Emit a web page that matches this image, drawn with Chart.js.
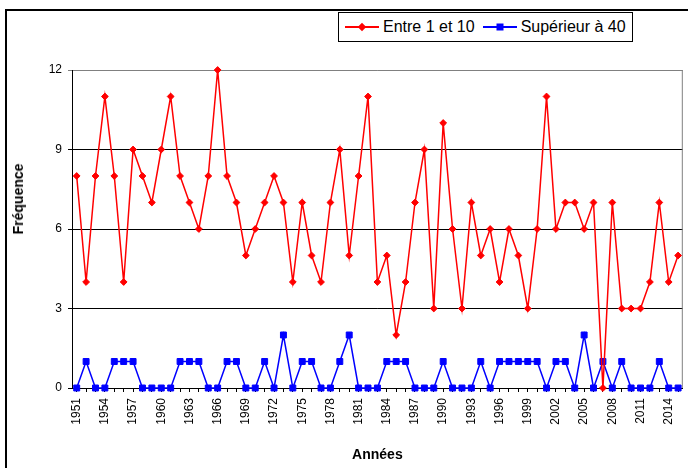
<!DOCTYPE html>
<html lang="fr">
<head>
<meta charset="utf-8">
<title>Fréquence par année</title>
<script src="https://cdn.jsdelivr.net/npm/chart.js@4/dist/chart.umd.min.js"></script>
<style>
  body { margin: 0; background: #fff; font-family: "Liberation Sans", Arial, sans-serif; }
  #cadre { position: relative; width: 688px; height: 468px; overflow: hidden; }
  #bord { position: absolute; left: 5px; top: 9px; width: 800px; height: 600px;
          border-left: 2px solid #000; border-top: 2px solid #000; }
  #legende { position: absolute; left: 338px; top: 12px; height: 28px; border: 1px solid #000;
             background: #fff; display: flex; align-items: center; padding: 0 6px; font-size: 16px; color: #000; }
  .item { display: flex; align-items: center; }
  .item + .item { margin-left: 8px; }
  .symbole { position: relative; width: 34px; height: 12px; margin-right: 4px; }
  .trait { position: absolute; left: 0; right: 0; top: 5px; height: 1.5px; }
  .marque { position: absolute; left: 50%; top: 6px; }
  #titreY { position: absolute; left: 18px; top: 199px; transform: translate(-50%, -50%) rotate(-90deg);
            font-weight: bold; font-size: 14px; white-space: nowrap; }
  #zone { position: absolute; left: 0; top: 0; width: 688px; height: 468px; }
</style>
</head>
<body>
<div id="cadre">
  <div id="bord"></div>
  <div id="zone"><canvas id="graphique"></canvas></div>
  <div id="titreY">Fréquence</div>
  <div id="legende"></div>
</div>
<script>
const annees = [
  '1951','1952','1953','1954','1955','1956','1957','1958','1959','1960',
  '1961','1962','1963','1964','1965','1966','1967','1968','1969','1970',
  '1971','1972','1973','1974','1975','1976','1977','1978','1979','1980',
  '1981','1982','1983','1984','1985','1986','1987','1988','1989','1990',
  '1991','1992','1993','1994','1995','1996','1997','1998','1999','2000',
  '2001','2002','2003','2004','2005','2006','2007','2008','2009','2010',
  '2011','2012','2013','2014','2015'
];

const entre1et10 = [
  8, 4, 8, 11, 8, 4, 9, 8, 7, 9,
  11, 8, 7, 6, 8, 12, 8, 7, 5, 6,
  7, 8, 7, 4, 7, 5, 4, 7, 9, 5,
  8, 11, 4, 5, 2, 4, 7, 9, 3, 10,
  6, 3, 7, 5, 6, 4, 6, 5, 3, 6,
  11, 6, 7, 7, 6, 7, 0, 7, 3, 3,
  3, 4, 7, 4, 5
];

const superieur40 = [
  0, 1, 0, 0, 1, 1, 1, 0, 0, 0,
  0, 1, 1, 1, 0, 0, 1, 1, 0, 0,
  1, 0, 2, 0, 1, 1, 0, 0, 1, 2,
  0, 0, 0, 1, 1, 1, 0, 0, 0, 1,
  0, 0, 0, 1, 0, 1, 1, 1, 1, 1,
  0, 1, 1, 0, 2, 0, 1, 0, 1, 0,
  0, 0, 1, 0, 0
];

const ticksY = [0, 3, 6, 9, 12];
const pasEtiquettes = 3; // une année sur trois est écrite

Chart.defaults.font.family = '"Liberation Sans", Arial, sans-serif';
Chart.defaults.color = '#000';

const series = [
  { label: 'Entre 1 et 10', data: entre1et10, couleur: '#ff0000', forme: 'rectRot', rayon: 3.4 },
  { label: 'Supérieur à 40', data: superieur40, couleur: '#0000ff', forme: 'rect', rayon: 4.2 }
];

// bord droit gris de la zone de tracé
const bordDroit = {
  id: 'bordDroit',
  beforeDatasetsDraw(chart) {
    const { ctx, chartArea: a } = chart;
    ctx.save();
    ctx.strokeStyle = '#808080';
    ctx.lineWidth = 1;
    ctx.beginPath();
    ctx.moveTo(a.right - 0.5, a.top);
    ctx.lineTo(a.right - 0.5, a.bottom);
    ctx.stroke();
    ctx.restore();
  }
};

new Chart(document.getElementById('graphique'), {
  type: 'line',
  data: {
    labels: annees,
    datasets: series.map(s => ({
      label: s.label,
      data: s.data,
      borderColor: s.couleur,
      backgroundColor: s.couleur,
      borderWidth: 1.5,
      tension: 0,
      pointStyle: s.forme,
      pointRadius: s.rayon,
      pointBorderWidth: 1,
      pointBackgroundColor: s.couleur,
      pointBorderColor: s.couleur,
      clip: false
    }))
  },
  options: {
    responsive: true,
    maintainAspectRatio: false,
    animation: false,
    layout: { padding: { top: 70, right: 1, bottom: 0, left: 0 } },
    plugins: { legend: { display: false }, tooltip: { enabled: false } },
    scales: {
      x: {
        type: 'category',
        offset: true,
        grid: { drawOnChartArea: false, drawTicks: true, tickLength: 4, color: '#000' },
        border: { color: '#000' },
        ticks: {
          autoSkip: false, maxRotation: 90, minRotation: 90, padding: 6,
          font: { size: 12 },
          callback: (v, i) => i % pasEtiquettes === 0 ? annees[i] : ''
        },
        title: { display: true, text: 'Années', font: { size: 14, weight: 'bold' }, padding: { top: 0, bottom: 4 } },
        afterFit: s => { s.height = 80; s.paddingLeft = 0; s.paddingRight = 0; }
      },
      y: {
        min: ticksY[0],
        max: ticksY[ticksY.length - 1],
        afterBuildTicks: s => { s.ticks = ticksY.map(v => ({ value: v })); },
        ticks: { padding: 6, font: { size: 12 } },
        grid: { color: c => (c.tick && c.tick.value === 12 ? '#808080' : '#000'), tickLength: 4 },
        border: { color: '#000' },
        afterFit: s => { s.width = 72; }
      }
    }
  },
  plugins: [bordDroit]
});

// légende encadrée
const legende = document.getElementById('legende');
series.forEach(s => {
  const item = document.createElement('div');
  item.className = 'item';
  const sym = document.createElement('span');
  sym.className = 'symbole';
  const trait = document.createElement('span');
  trait.className = 'trait';
  trait.style.background = s.couleur;
  const marque = document.createElement('span');
  marque.className = 'marque';
  marque.style.background = s.couleur;
  if (s.forme === 'rectRot') {
    marque.style.width = '6px'; marque.style.height = '6px';
    marque.style.transform = 'translate(-50%, -50%) rotate(45deg)';
  } else {
    marque.style.width = '7px'; marque.style.height = '7px';
    marque.style.transform = 'translate(-50%, -50%)';
  }
  sym.appendChild(trait);
  sym.appendChild(marque);
  const texte = document.createElement('span');
  texte.textContent = s.label;
  item.appendChild(sym);
  item.appendChild(texte);
  legende.appendChild(item);
});
</script>
</body>
</html>
